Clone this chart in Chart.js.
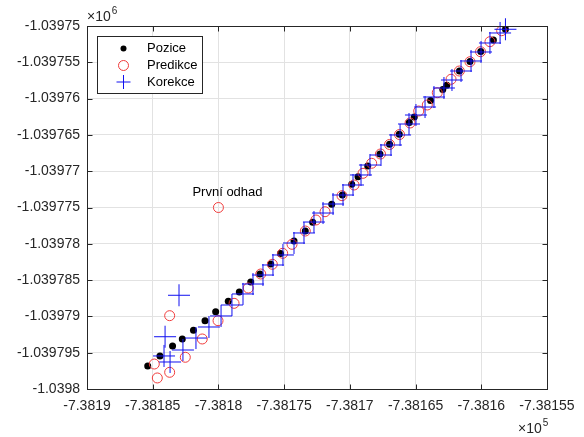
<!DOCTYPE html>
<html><head><meta charset="utf-8">
<script src="https://cdn.jsdelivr.net/npm/chart.js@4/dist/chart.umd.min.js"></script>
<style>html,body{margin:0;padding:0;background:#fff;overflow:hidden}</style>
</head><body>
<canvas id="c" width="584" height="437"></canvas>
<script>
// ---- data (x in m, y in m) ----
const poziceX = [-738185.38,-738184.45,-738183.49,-738182.75,-738181.90,-738181.02,-738180.21,-738179.25,-738178.41,-738177.54,-738176.84,-738176.02,-738175.28,-738174.25,-738173.39,-738172.83,-738171.38,-738170.57,-738169.86,-738169.38,-738168.64,-738167.71,-738166.98,-738166.24,-738165.48,-738165.10,-738163.86,-738162.93,-738162.63,-738161.66,-738160.86,-738160.04,-738159.08,-738158.16];
const poziceY = [-1039796.83,-1039795.45,-1039794.08,-1039793.11,-1039791.91,-1039790.59,-1039789.35,-1039787.92,-1039786.64,-1039785.26,-1039784.16,-1039782.78,-1039781.34,-1039779.61,-1039778.24,-1039777.04,-1039774.56,-1039773.28,-1039771.80,-1039770.76,-1039769.28,-1039767.63,-1039766.29,-1039764.90,-1039763.29,-1039762.53,-1039760.26,-1039758.75,-1039758.15,-1039756.20,-1039754.89,-1039753.51,-1039751.93,-1039750.44];

const predikceX = [-738180.00,-738184.88,-738184.65,-738183.71,-738183.71,-738182.52,-738181.23,-738180.03,-738178.81,-738177.73,-738176.78,-738175.90,-738175.11,-738174.40,-738173.39,-738172.58,-738171.89,-738170.60,-738169.68,-738169.00,-738168.34,-738167.67,-738166.98,-738166.22,-738165.42,-738164.76,-738164.11,-738163.35,-738162.30,-738161.67,-738160.86,-738160.06,-738159.34,-738158.45];
const predikceY = [-1039775.00,-1039796.56,-1039798.48,-1039797.70,-1039789.90,-1039795.63,-1039793.11,-1039790.59,-1039788.20,-1039786.09,-1039784.16,-1039782.82,-1039781.31,-1039780.07,-1039778.24,-1039776.72,-1039775.58,-1039773.37,-1039771.90,-1039770.29,-1039768.91,-1039767.63,-1039766.32,-1039764.95,-1039763.36,-1039761.71,-1039760.88,-1039759.19,-1039757.34,-1039756.20,-1039754.92,-1039753.54,-1039752.16,-1039750.65];

const korekceX = [-738183.00,-738184.06,-738184.14,-738183.68,-738182.70,-738181.71,-738180.72,-738179.80,-738178.97,-738178.13,-738177.37,-738176.61,-738175.85,-738175.09,-738174.25,-738173.49,-738172.73,-738172.04,-738171.28,-738170.52,-738169.76,-738169.15,-738168.47,-738167.63,-738166.87,-738166.18,-738165.50,-738164.97,-738164.28,-738163.60,-738162.84,-738162.23,-738161.54,-738160.78,-738160.02,-738159.34,-738158.57,-738158.16];
const korekceY = [-1039787.09,-1039792.80,-1039795.45,-1039796.28,-1039794.63,-1039792.98,-1039791.46,-1039789.94,-1039788.43,-1039786.91,-1039785.54,-1039784.30,-1039782.92,-1039781.54,-1039779.89,-1039778.51,-1039777.00,-1039775.76,-1039774.52,-1039773.28,-1039771.90,-1039770.52,-1039769.15,-1039767.77,-1039766.39,-1039765.01,-1039763.50,-1039762.26,-1039761.16,-1039759.78,-1039758.54,-1039757.44,-1039756.20,-1039754.82,-1039753.58,-1039752.34,-1039750.96,-1039750.45];

const xTickLabels = ['-7.3819','-7.38185','-7.3818','-7.38175','-7.3817','-7.38165','-7.3816','-7.38155'];
const yTickLabels = ['-1.0398','-1.039795','-1.03979','-1.039785','-1.03978','-1.039775','-1.03977','-1.039765','-1.03976','-1.039755','-1.03975'];
const seriesNames = ['Pozice','Predikce','Korekce'];
const annotationText = 'První odhad';
const annotationPoint = {x: predikceX[0], y: predikceY[0]};

const FONT = '"Liberation Sans", Arial, sans-serif';
const AXIS_COLOR = '#262626';
const BLUE = '#1010f0';
const RED = '#f03c3c';

function pts(xs, ys){ return xs.map((x,i)=>({x, y: ys[i]})); }

const decor = {
  id: 'decor',
  afterDatasetsDraw(chart){
    const ctx = chart.ctx, a = chart.chartArea;
    const xs = chart.scales.x, ys = chart.scales.y;
    ctx.save();
    // annotation
    const px = xs.getPixelForValue(annotationPoint.x), py = ys.getPixelForValue(annotationPoint.y);
    ctx.fillStyle = '#000';
    ctx.font = '13px ' + FONT;
    ctx.textAlign = 'left'; ctx.textBaseline = 'middle';
    ctx.fillText(annotationText, px - 26, py - 15);
    // box
    ctx.strokeStyle = AXIS_COLOR; ctx.lineWidth = 1;
    const L = Math.round(a.left)+0.5, R = Math.round(a.right)+0.5, T = Math.round(a.top)+0.5, B = Math.round(a.bottom)+0.5;
    ctx.strokeRect(L, T, R-L, B-T);
    // inward ticks
    ctx.beginPath();
    xs.ticks.forEach(t=>{ const x = Math.round(xs.getPixelForValue(t.value))+0.5;
      ctx.moveTo(x, B); ctx.lineTo(x, B-5); ctx.moveTo(x, T); ctx.lineTo(x, T+5); });
    ys.ticks.forEach(t=>{ const y = Math.round(ys.getPixelForValue(t.value))+0.5;
      ctx.moveTo(L, y); ctx.lineTo(L+5, y); ctx.moveTo(R, y); ctx.lineTo(R-5, y); });
    ctx.stroke();
    // exponent labels
    ctx.fillStyle = AXIS_COLOR;
    ctx.font = '14px ' + FONT; ctx.textBaseline = 'middle'; ctx.textAlign = 'left';
    ctx.fillText('\u00d710', a.left, a.top - 9);
    let w = ctx.measureText('\u00d710').width;
    ctx.font = '10px ' + FONT;
    ctx.fillText('6', a.left + w + 1, a.top - 15);
    ctx.font = '14px ' + FONT;
    ctx.fillText('\u00d710', a.right - 29, a.bottom + 40);
    w = ctx.measureText('\u00d710').width;
    ctx.font = '10px ' + FONT;
    ctx.fillText('5', a.right - 29 + w + 1, a.bottom + 34);
    // legend
    const lx = 97, ly = 36, lw = 105, lh = 57;
    ctx.fillStyle = '#fff';
    ctx.fillRect(lx, ly, lw, lh);
    ctx.strokeStyle = AXIS_COLOR;
    ctx.strokeRect(lx+0.5, ly+0.5, lw, lh);
    const rows = [48.5, 65.5, 82];
    const mx = 123.5;
    // Pozice marker
    ctx.fillStyle = '#000';
    ctx.beginPath(); ctx.arc(mx, rows[0], 3, 0, Math.PI*2); ctx.fill();
    // Predikce marker
    ctx.strokeStyle = RED; ctx.lineWidth = 1;
    ctx.beginPath(); ctx.arc(mx, rows[1], 5, 0, Math.PI*2); ctx.stroke();
    // Korekce marker
    ctx.strokeStyle = BLUE;
    ctx.beginPath(); ctx.moveTo(mx-7, rows[2]); ctx.lineTo(mx+7, rows[2]);
    ctx.moveTo(mx, rows[2]-7); ctx.lineTo(mx, rows[2]+7); ctx.stroke();
    ctx.fillStyle = '#000';
    ctx.font = '13px ' + FONT; ctx.textAlign = 'left'; ctx.textBaseline = 'middle';
    seriesNames.forEach((n,i)=> ctx.fillText(n, 147, rows[i]));
    ctx.restore();
  }
};

new Chart(document.getElementById('c'), {
  type: 'scatter',
  data: {
    datasets: [
      {label: seriesNames[0], data: pts(poziceX, poziceY), order: 3, pointStyle: 'circle', pointRadius: 3.5, pointHoverRadius: 3.5,
       backgroundColor: '#000', borderColor: '#000', borderWidth: 0},
      {label: seriesNames[1], data: pts(predikceX, predikceY), order: 2, pointStyle: 'circle', pointRadius: 5, pointHoverRadius: 5,
       backgroundColor: 'rgba(0,0,0,0)', borderColor: RED, borderWidth: 1},
      {label: seriesNames[2], data: pts(korekceX, korekceY), order: 1, pointStyle: 'cross', pointRadius: 11, pointHoverRadius: 11,
       backgroundColor: BLUE, borderColor: BLUE, borderWidth: 1, clip: false}
    ]
  },
  options: {
    responsive: false, animation: false, devicePixelRatio: 1,
    events: [],
    layout: {padding: {top: 26, right: 37, left: 0, bottom: 0}},
    plugins: {legend: {display: false}, tooltip: {enabled: false}},
    scales: {
      x: {type: 'linear', min: -738190, max: -738155,
          afterFit(s){ s.height = 48; },
          border: {display: false},
          grid: {color: '#e2e2e2', lineWidth: 1, drawTicks: false},
          ticks: {stepSize: 5, autoSkip: false, maxRotation: 0, padding: 9, color: AXIS_COLOR,
                  font: {family: FONT, size: 14},
                  callback: (v, i) => xTickLabels[i]}},
      y: {type: 'linear', min: -1039800, max: -1039750,
          afterFit(s){ s.width = 87; },
          border: {display: false},
          grid: {color: '#e2e2e2', lineWidth: 1, drawTicks: false},
          ticks: {stepSize: 5, autoSkip: false, padding: 7, color: AXIS_COLOR,
                  font: {family: FONT, size: 14},
                  callback: (v, i) => yTickLabels[i]}}
    }
  },
  plugins: [decor]
});
</script>
</body></html>
